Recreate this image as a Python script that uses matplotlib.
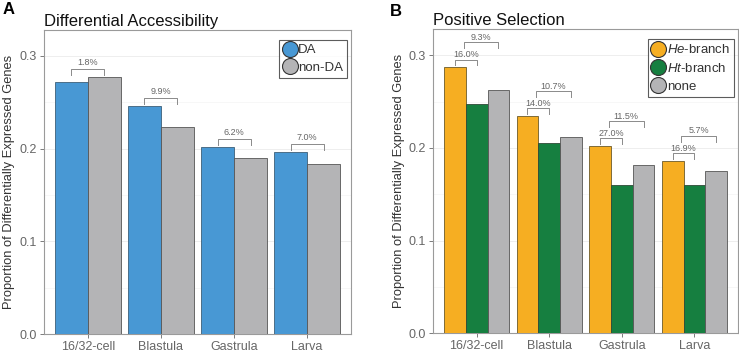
import matplotlib
matplotlib.use("Agg")
import matplotlib.pyplot as plt
import numpy as np
from matplotlib.lines import Line2D
from matplotlib.ticker import MultipleLocator

plt.rcParams['font.family'] = ['Liberation Sans', 'DejaVu Sans']
plt.rcParams['mathtext.fontset'] = 'custom'
plt.rcParams['mathtext.it'] = 'Liberation Sans:italic'
plt.rcParams['mathtext.rm'] = 'Liberation Sans'

# data
stages = ["16/32-cell", "Blastula", "Gastrula", "Larva"]

da = [0.2715, 0.2456, 0.2014, 0.1963]
non_da = [0.2770, 0.2233, 0.1895, 0.1834]
da_labels = ["1.8%", "9.9%", "6.2%", "7.0%"]

he_branch = [0.2870, 0.2346, 0.2022, 0.1863]
ht_branch = [0.2476, 0.2054, 0.1596, 0.1596]
no_branch = [0.2627, 0.2119, 0.1812, 0.1755]
he_ht_labels = ["16.0%", "14.0%", "27.0%", "16.9%"]
he_none_labels = ["9.3%", "10.7%", "11.5%", "5.7%"]

BLUE = '#4898d4'
GREY = '#b4b4b6'
ORANGE = '#f6ae22'
GREEN = '#167f40'
EDGE = '#555555'
BRACKET = '#8a8a8a'
TEXT = '#666666'

fig = plt.figure(figsize=(7.39, 3.53), dpi=100)
ax1 = fig.add_axes([0.0595, 0.0538, 0.4155, 0.8612])
ax2 = fig.add_axes([0.586, 0.0558, 0.4126, 0.8612])


def style_axes(ax):
    ax.set_xlim(0.4, 4.6)
    ax.set_ylim(0, 0.328)
    ax.yaxis.set_major_locator(MultipleLocator(0.1))
    ax.yaxis.set_minor_locator(MultipleLocator(0.05))
    ax.set_yticks([0.0, 0.1, 0.2, 0.3])
    ax.set_yticklabels(["0.0", "0.1", "0.2", "0.3"])
    ax.set_xticks(np.arange(1, 5))
    ax.set_xticklabels(stages)
    ax.grid(True, which='major', axis='y', color='#ebebeb', linewidth=0.6, zorder=0)
    ax.grid(True, which='minor', axis='y', color='#f4f4f4', linewidth=0.5, zorder=0)
    ax.set_axisbelow(True)
    for sp in ax.spines.values():
        sp.set_color('#9a9a9a')
        sp.set_linewidth(0.8)
    ax.tick_params(axis='both', which='major', labelsize=9, colors='#666666',
                   length=3, width=0.6, pad=2)
    ax.tick_params(axis='y', which='minor', length=0)
    ax.set_ylabel("Proportion of Differentially Expressed Genes", fontsize=9.3,
                  color='#333333', labelpad=3)


def bracket(ax, x0, x1, y0, y1, label, offset):
    ax.plot([x0, x0, x1, x1], [y0, y1, y1, y0], color=BRACKET, linewidth=0.7,
            zorder=4)
    ax.text((x0 + x1) / 2, y1 + offset, label, ha='center', va='center',
            fontsize=6.5, color=TEXT, zorder=5)


def add_legend(ax, colors, labels):
    handles = [Line2D([], [], marker='o', linestyle='', markersize=11.5,
                      markerfacecolor=c, markeredgecolor='#333333',
                      markeredgewidth=0.8)
               for c in colors]
    leg = ax.legend(handles, labels, loc='upper right', bbox_to_anchor=(1.0, 0.98),
                    fontsize=9.5, frameon=True, fancybox=False, edgecolor='#333333',
                    handlelength=1.0, handletextpad=0.15, borderpad=0.3,
                    labelspacing=0.42, borderaxespad=0.3)
    leg.get_frame().set_linewidth(0.8)
    for t in leg.get_texts():
        t.set_color('#333333')


# Panel A
x = np.arange(1, 5)
w = 0.45
ax1.bar(x - w / 2, da, w, color=BLUE, edgecolor='#3d5f78', linewidth=0.6, zorder=3)
ax1.bar(x + w / 2, non_da, w, color=GREY, edgecolor=EDGE, linewidth=0.6, zorder=3)
for i in range(4):
    top = max(da[i], non_da[i])
    bracket(ax1, x[i] - w / 2, x[i] + w / 2, top + 0.0025, top + 0.009,
            da_labels[i], 0.0068)
style_axes(ax1)
ax1.set_title("Differential Accessibility", loc='left', fontsize=12,
              color='#111111', pad=3)
add_legend(ax1, (BLUE, GREY), ["DA", "non-DA"])

# Panel B
w3 = 0.3
ax2.bar(x - w3, he_branch, w3, color=ORANGE, edgecolor='#6b5a2a', linewidth=0.6, zorder=3)
ax2.bar(x, ht_branch, w3, color=GREEN, edgecolor='#2f4a37', linewidth=0.6, zorder=3)
ax2.bar(x + w3, no_branch, w3, color=GREY, edgecolor=EDGE, linewidth=0.6, zorder=3)
for i in range(4):
    y0 = max(he_branch[i], ht_branch[i]) + 0.002
    bracket(ax2, x[i] - w3, x[i], y0, y0 + 0.006, he_ht_labels[i], 0.0055)
    y0b = y0 + 0.0185
    bracket(ax2, x[i] - w3 + 0.12, x[i] + w3, y0b, y0b + 0.0065,
            he_none_labels[i], 0.005)
style_axes(ax2)
ax2.set_title("Positive Selection", loc='left', fontsize=12,
              color='#111111', pad=3)
add_legend(ax2, (ORANGE, GREEN, GREY),
           [r"$\mathit{He}$-branch", r"$\mathit{Ht}$-branch", "none"])

# panel letters
fig.text(0.004, 0.995, "A", fontsize=12, fontweight='bold', va='top', ha='left')
fig.text(0.527, 0.99, "B", fontsize=12, fontweight='bold', va='top', ha='left')

fig.savefig("out.png", dpi=100)
